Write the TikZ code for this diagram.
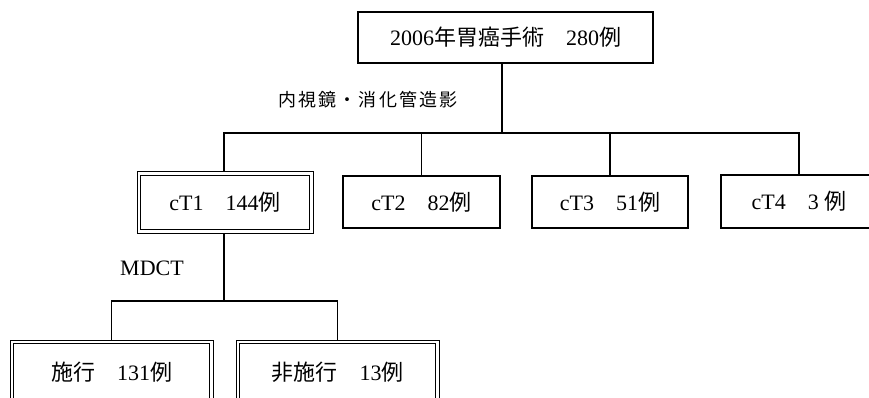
\documentclass[tikz,border=0pt]{standalone}
\usepackage{fontspec}
\setmainfont{Liberation Serif}
\newfontfamily\cjk{Noto Sans CJK JP}
\newfontfamily\cjkls[LetterSpace=12]{Noto Sans CJK JP}
\newcommand\J[1]{{\cjk #1}}
\begin{document}
\begin{tikzpicture}[x=1pt,y=-1pt, line width=1.2pt,
  box/.style={draw, rectangle, inner sep=0pt, font=\fontsize{22}{24}\selectfont},
  dbox/.style={box, line width=1pt},
  inner/.style={draw, line width=1pt},
  lbl/.style={inner sep=0pt}]
\useasboundingbox (0,0) rectangle (869,397);
\node[box, minimum width=295pt, minimum height=51pt] (top) at (505.5,37.5) {2006\J{年胃癌手術　}280\J{例}};
\node[lbl, font=\cjkls\fontsize{18}{20}\selectfont] (l1) at (368,100) {内視鏡・消化管造影};
\node[dbox, minimum width=176pt, minimum height=62pt] (cT1) at (225,202) {cT1\J{　}144\J{例}};
\draw[inner] ([shift={(4,5)}]cT1.north west) rectangle ([shift={(-4,-4)}]cT1.south east);
\node[box, minimum width=157pt, minimum height=52pt] (cT2) at (421.5,202) {cT2\J{　}82\J{例}};
\node[box, minimum width=156pt, minimum height=52pt] (cT3) at (610,202) {cT3\J{　}51\J{例}};
\node[box, minimum width=156pt, minimum height=53pt] (cT4) at (799,201.5) {cT4\J{　}3 \J{例}};
\node[lbl, font=\fontsize{22}{24}\selectfont] (l2) at (152,268) {MDCT};
\node[dbox, minimum width=203pt, minimum height=64pt] (s1) at (111.5,372) {\J{施行　}131\J{例}};
\draw[inner] ([shift={(4,4)}]s1.north west) rectangle ([shift={(-4,-4)}]s1.south east);
\node[dbox, minimum width=203pt, minimum height=64pt] (s2) at (337.5,372) {\J{非施行　}13\J{例}};
\draw[inner] ([shift={(4,4)}]s2.north west) rectangle ([shift={(-4,-4)}]s2.south east);
\coordinate (j1) at (502,133);
\coordinate (j2) at (224,301);
\draw (top.south -| j1) -- (j1);
\draw (cT1.north -| j2) |- (j1) -| (cT4.north);
\draw (cT2.north) -- (cT2.north |- j1);
\draw (cT3.north) -- (cT3.north |- j1);
\draw (cT1.south -| j2) -- (j2);
\draw (s1.north) |- (j2) -| (s2.north);
\end{tikzpicture}
\end{document}
